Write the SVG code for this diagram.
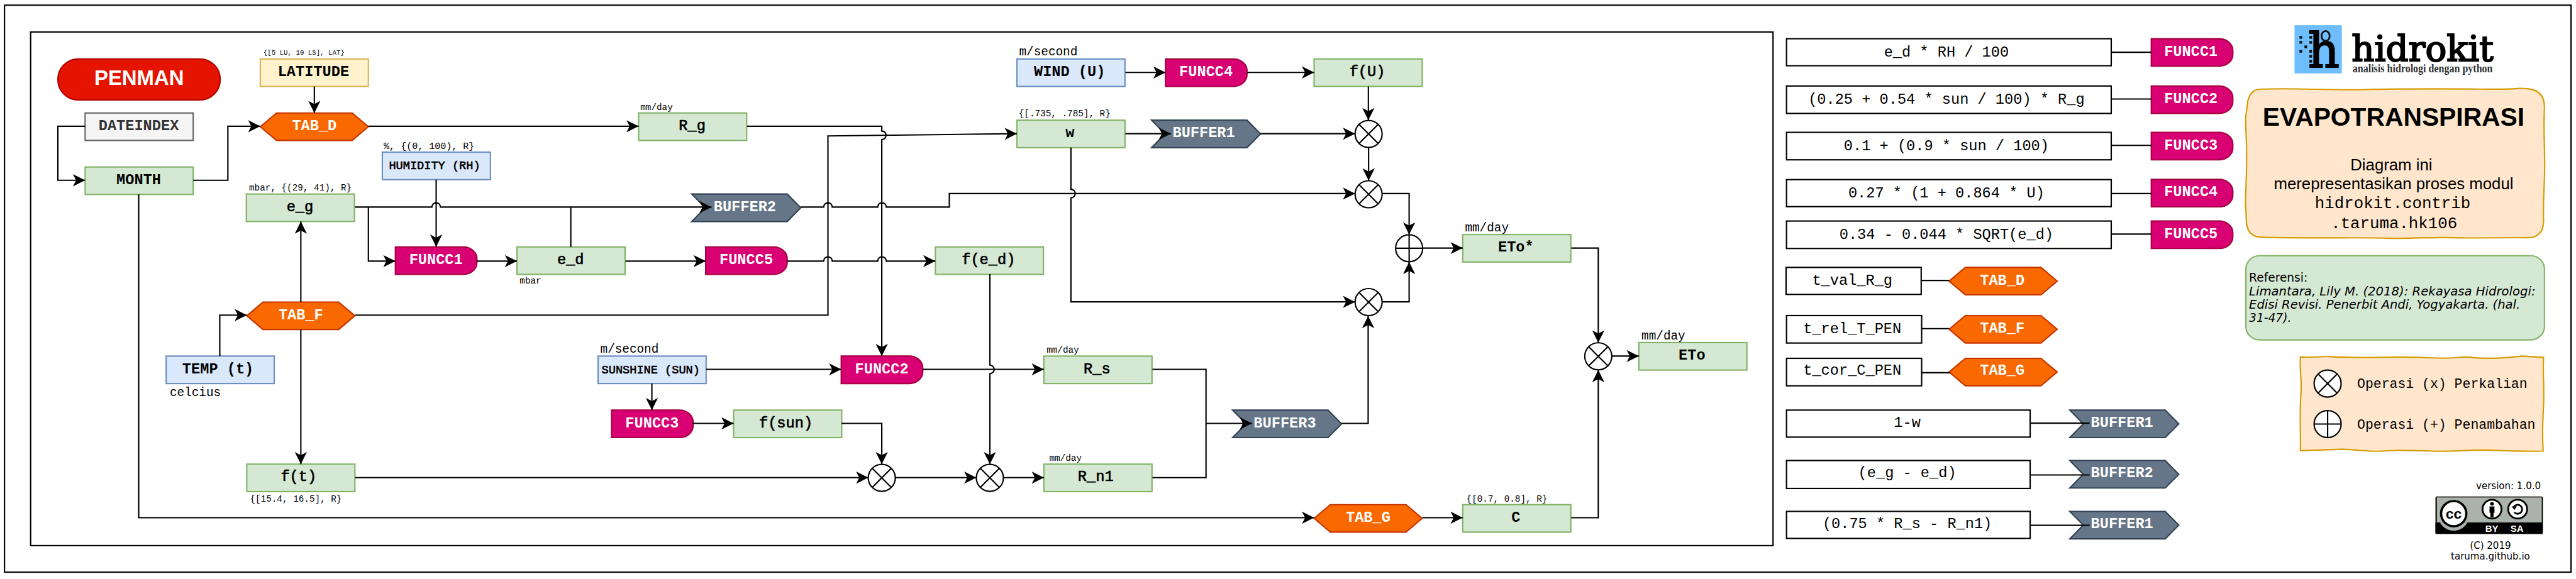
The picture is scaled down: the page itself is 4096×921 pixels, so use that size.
<svg xmlns="http://www.w3.org/2000/svg" width="4096" height="921" viewBox="0 0 4096 921">
<style>
text{font-family:"Liberation Mono",monospace;text-anchor:middle;fill:#000}
.n{font-weight:700;font-size:33px}
.v{font-weight:400;font-size:33px;stroke:#000;stroke-width:1}
.i{font-weight:400;font-size:26px;stroke:#000;stroke-width:.9}
.w{fill:#fff}
.f{font-size:33px}
.l{text-anchor:start}
.s15{font-size:15px}.s20{font-size:20px}.s21{font-size:21px}.s27{font-size:27px}
.sans{font-family:"Liberation Sans",Arial,sans-serif}
.dj{font-family:"DejaVu Sans",sans-serif}
.gn,.bl,.yl,.gy,.or,.pk,.sl,.wb,.fr,.op{stroke-width:3}
.gn{fill:#d5e8d4;stroke:#82b366}
.bl{fill:#dae8fc;stroke:#6c8ebf}
.yl{fill:#fff2cc;stroke:#d6b656}
.gy{fill:#f5f5f5;stroke:#666}
.or{fill:#fa6800;stroke:#c73500}
.pk{fill:#d80073;stroke:#a50040}
.sl{fill:#647687;stroke:#314354}
.wb{fill:#fff;stroke:#000}
.fr{fill:none;stroke:#000}
.op{fill:#fff;stroke:#000}
.cm{fill:#ffe6cc;stroke:#d79b00;stroke-width:3}
#connectors path,#legend-links path{fill:none;stroke:#000;stroke-width:3}
.a{marker-end:url(#arr)}
</style>
<defs>
<marker id="arr" markerUnits="userSpaceOnUse" markerWidth="30" markerHeight="30" viewBox="-28 -15 30 30" refX="0" refY="0" orient="auto"><path d="M-27,-13.5L0,0L-27,13.5L-20,0Z" fill="#000"/></marker>
<polygon id="hex" points="0,30.5 36,0 204,0 240,30.5 204,61 36,61"/>
<path id="chev" d="M0,0H212L242,30.5L212,61H0L30,30.5Z"/>
<path id="func" d="M0,0H151A30,26 0 0 1 181,26V35A30,26 0 0 1 151,61H0Z"/>
<rect id="box" width="240" height="61"/>
<g id="mul"><circle r="30"/><path d="M-21,-21L21,21M21,-21L-21,21" fill="none"/></g>
<g id="add"><circle r="30"/><path d="M-30,0H30M0,-30V30" fill="none"/></g>
</defs>
<rect width="4096" height="921" fill="#fff"/>
<g transform="scale(0.71608)">
<rect id="frame-outer" class="fr" x="10" y="11.5" width="5699" height="1259.5"/>
<rect id="frame-inner" class="fr" x="68" y="71" width="3869" height="1141"/>

<g id="penman"><rect x="128.500" y="131" width="360.500" height="91" rx="45" ry="45" fill="#e51400" stroke="#b20000" stroke-width="3"/><text class="sans w" x="309" y="189" font-size="46" font-weight="700">PENMAN</text></g>
<g id="latitude"><use href="#box" class="yl" x="578" y="131"/><text class="n" x="696" y="169">LATITUDE</text><text class="s15 l" x="585" y="121">{[5 LU, 10 LS], LAT}</text></g>
<g id="dateindex"><use href="#box" class="gy" x="189" y="251"/><text class="n" x="308" y="289" style="fill:#333">DATEINDEX</text></g>
<g id="month"><use href="#box" class="gn" x="189" y="371"/><text class="n" x="308" y="409">MONTH</text></g>
<g id="tab-d"><use href="#hex" class="or" x="578" y="251"/><text class="n w" x="698" y="289">TAB_D</text></g>
<g id="humidity"><use href="#box" class="bl" x="849" y="338"/><text class="i" x="965" y="376">HUMIDITY (RH)</text><text class="s21 l" x="852" y="331">%, {(0, 100), R}</text></g>
<g id="e-g"><use href="#box" class="gn" x="547" y="431"/><text class="v" x="666" y="469">e_g</text><text class="s20 l" x="553" y="423">mbar, {(29, 41), R}</text></g>
<g id="funcc1"><use href="#func" class="pk" x="878" y="548.500"/><text class="n w" x="968" y="587">FUNCC1</text></g>
<g id="e-d"><use href="#box" class="gn" x="1148" y="548.500"/><text class="v" x="1267" y="587">e_d</text><text class="s20 l" x="1154" y="630">mbar</text></g>
<g id="r-g"><use href="#box" class="gn" x="1418" y="251"/><text class="v" x="1537" y="289">R_g</text><text class="s20 l" x="1422" y="245">mm/day</text></g>
<g id="buffer2"><use href="#chev" class="sl" x="1536" y="431"/><text class="n w" x="1654" y="469">BUFFER2</text></g>
<g id="funcc5"><use href="#func" class="pk" x="1567" y="548.500"/><text class="n w" x="1657" y="587">FUNCC5</text></g>
<g id="f-e-d"><use href="#box" class="gn" x="2077" y="548.500"/><text class="v" x="2195" y="587">f(e_d)</text></g>
<g id="wind"><use href="#box" class="bl" x="2258" y="131"/><text class="n" x="2375" y="169">WIND (U)</text><text class="s27 l" x="2263" y="123">m/second</text></g>
<g id="w"><use href="#box" class="gn" x="2258" y="267"/><text class="n" x="2376" y="305">w</text><text class="s20 l" x="2262" y="259">{[.735, .785], R}</text></g>
<g id="funcc4"><use href="#func" class="pk" x="2588" y="131"/><text class="n w" x="2678" y="169">FUNCC4</text></g>
<g id="f-u"><use href="#box" class="gn" x="2918" y="131"/><text class="v" x="3036" y="169">f(U)</text></g>
<g id="buffer1"><use href="#chev" class="sl" x="2557" y="267"/><text class="n w" x="2673" y="305">BUFFER1</text></g>
<g id="op-x1"><use href="#mul" class="op" x="3039" y="297.500"/></g>
<g id="op-x2"><use href="#mul" class="op" x="3039" y="431.500"/></g>
<g id="op-plus"><use href="#add" class="op" x="3129" y="551.500"/></g>
<g id="op-x3"><use href="#mul" class="op" x="3039" y="671"/></g>
<g id="eto-star"><use href="#box" class="gn" x="3248" y="521"/><text class="n" x="3366" y="559">ETo*</text><text class="s27 l" x="3253" y="514">mm/day</text></g>
<g id="op-x4"><use href="#mul" class="op" x="3549" y="791.500"/></g>
<g id="eto"><use href="#box" class="gn" x="3639" y="761"/><text class="n" x="3757" y="799">ETo</text><text class="s27 l" x="3645" y="754">mm/day</text></g>
<g id="tab-f"><use href="#hex" class="or" x="548" y="671"/><text class="n w" x="668" y="709">TAB_F</text></g>
<g id="temp"><use href="#box" class="bl" x="369" y="791"/><text class="n" x="484" y="829">TEMP (t)</text><text class="s27 l" x="377" y="880">celcius</text></g>
<g id="f-t"><use href="#box" class="gn" x="548" y="1031"/><text class="v" x="663" y="1069">f(t)</text><text class="s20 l" x="555" y="1114">{[15.4, 16.5], R}</text></g>
<g id="sunshine"><use href="#box" class="bl" x="1328" y="791"/><text class="i" x="1445" y="829">SUNSHINE (SUN)</text><text class="s27 l" x="1333" y="784">m/second</text></g>
<g id="funcc2"><use href="#func" class="pk" x="1868" y="791"/><text class="n w" x="1958" y="829">FUNCC2</text></g>
<g id="funcc3"><use href="#func" class="pk" x="1358" y="911"/><text class="n w" x="1448" y="949">FUNCC3</text></g>
<g id="f-sun"><use href="#box" class="gn" x="1629" y="911"/><text class="v" x="1745" y="949">f(sun)</text></g>
<g id="op-x5"><use href="#mul" class="op" x="1958" y="1061.500"/></g>
<g id="op-x6"><use href="#mul" class="op" x="2198" y="1061.500"/></g>
<g id="r-s"><use href="#box" class="gn" x="2318" y="791"/><text class="v" x="2436" y="829">R_s</text><text class="s20 l" x="2324" y="784">mm/day</text></g>
<g id="r-n1"><use href="#box" class="gn" x="2318" y="1031"/><text class="v" x="2433" y="1069">R_n1</text><text class="s20 l" x="2330" y="1024">mm/day</text></g>
<g id="buffer3"><use href="#chev" class="sl" x="2737" y="911"/><text class="n w" x="2853" y="949">BUFFER3</text></g>
<g id="tab-g"><use href="#hex" class="or" x="2918" y="1121"/><text class="n w" x="3038" y="1159">TAB_G</text></g>
<g id="c"><use href="#box" class="gn" x="3248" y="1121"/><text class="n" x="3366" y="1159">C</text><text class="s20 l" x="3256" y="1114">{[0.7, 0.8], R}</text></g>

<g id="connectors">
<path class="a" d="M189,280.500H128.500V400.500H189"/>
<path class="a" d="M429,400.500H506V280.500H578"/>
<path class="a" d="M698,192V251"/>
<path class="a" d="M818,280.500H1418"/>
<path class="a" d="M968.500,399V548"/>
<path class="a" d="M788,460H959a9.500,9.500 0 0 1 19,0H1580"/>
<path class="a" d="M818,460V580H878"/>
<path d="M1267.500,460V548.500"/>
<path class="a" d="M1059,580H1148"/>
<path class="a" d="M1389,580H1567"/>
<path class="a" d="M1748,580H1829a9.500,9.500 0 0 1 19,0H1949a9.500,9.500 0 0 1 19,0H2077"/>
<path class="a" d="M1778,460H1829a9.500,9.500 0 0 1 19,0H1949a9.500,9.500 0 0 1 19,0H2108V430H3009"/>
<path class="a" d="M1659,280.500H1958V291a9.500,9.500 0 0 1 0,19V791"/>
<path class="a" d="M789,700H1838.500V302L2258,297"/>
<path class="a" d="M2378,328V420.500a9.500,9.500 0 0 1 0,19V670.500H3009"/>
<path class="a" d="M488,791V700H548"/>
<path class="a" d="M668,671V492"/>
<path class="a" d="M668,732V1031"/>
<path class="a" d="M308,432V1150H2918"/>
<path class="a" d="M3159,1150H3248"/>
<path class="a" d="M3489,1150H3549V822"/>
<path class="a" d="M789,1061H1928"/>
<path class="a" d="M1988,1061H2168"/>
<path class="a" d="M2228,1061H2318"/>
<path class="a" d="M1869,940.500H1958V1031"/>
<path class="a" d="M1538,940.500H1629"/>
<path class="a" d="M1447.500,852V911"/>
<path class="a" d="M1568,820.500H1868"/>
<path class="a" d="M2049,820.500H2318"/>
<path class="a" d="M2198,609V811a9.500,9.500 0 0 1 0,19V1031"/>
<path d="M2559,820.500H2678V1061H2559"/>
<path class="a" d="M2678,940.500H2780"/>
<path class="a" d="M2979,940.500H3038V702"/>
<path class="a" d="M2499,161H2588"/>
<path class="a" d="M2769,161H2918"/>
<path class="a" d="M3038.500,192V267"/>
<path class="a" d="M2499,297H2600"/>
<path class="a" d="M2799,297H3009"/>
<path class="a" d="M3039,328V401"/>
<path class="a" d="M3069,430H3129V521"/>
<path class="a" d="M3069,670.500H3129V582"/>
<path class="a" d="M3159,551H3248"/>
<path class="a" d="M3489,551H3549V761"/>
<path class="a" d="M3579,791H3639"/>
</g>

<g id="def1"><rect class="wb" x="3967" y="86" width="721" height="60"/><text class="f" x="4322" y="126">e_d * RH / 100</text><use href="#func" class="pk" x="4777" y="86"/><text class="n w" x="4865" y="124">FUNCC1</text></g>
<g id="def2"><rect class="wb" x="3967" y="191" width="721" height="61"/><text class="f" x="4322" y="231">(0.25 + 0.54 * sun / 100) * R_g</text><use href="#func" class="pk" x="4777" y="191"/><text class="n w" x="4865" y="229">FUNCC2</text></g>
<g id="def3"><rect class="wb" x="3967" y="294" width="721" height="61"/><text class="f" x="4322" y="334">0.1 + (0.9 * sun / 100)</text><use href="#func" class="pk" x="4777" y="294"/><text class="n w" x="4865" y="332">FUNCC3</text></g>
<g id="def4"><rect class="wb" x="3967" y="399" width="721" height="60"/><text class="f" x="4322" y="438">0.27 * (1 + 0.864 * U)</text><use href="#func" class="pk" x="4777" y="398.500"/><text class="n w" x="4865" y="436">FUNCC4</text></g>
<g id="def5"><rect class="wb" x="3967" y="491" width="721" height="61"/><text class="f" x="4322" y="531">0.34 - 0.044 * SQRT(e_d)</text><use href="#func" class="pk" x="4777" y="491"/><text class="n w" x="4865" y="529">FUNCC5</text></g>
<g id="def6"><rect class="wb" x="3966" y="594" width="300" height="60"/><text class="f" x="4113" y="633">t_val_R_g</text><use href="#hex" class="or" x="4328" y="594"/><text class="n w" x="4446" y="632">TAB_D</text></g>
<g id="def7"><rect class="wb" x="3967" y="701" width="300" height="61"/><text class="f" x="4113" y="740">t_rel_T_PEN</text><use href="#hex" class="or" x="4328" y="701"/><text class="n w" x="4446" y="739">TAB_F</text></g>
<g id="def8"><rect class="wb" x="3967" y="796" width="300" height="61"/><text class="f" x="4113" y="833">t_cor_C_PEN</text><use href="#hex" class="or" x="4328" y="796"/><text class="n w" x="4446" y="832">TAB_G</text></g>
<g id="def9"><rect class="wb" x="3967" y="911" width="541" height="60"/><text class="f" x="4235" y="948">1-w</text><use href="#chev" class="sl" x="4596" y="911"/><text class="n w" x="4712" y="948">BUFFER1</text></g>
<g id="def10"><rect class="wb" x="3967" y="1023" width="541" height="62"/><text class="f" x="4235" y="1060">(e_g - e_d)</text><use href="#chev" class="sl" x="4596" y="1023"/><text class="n w" x="4712" y="1060">BUFFER2</text></g>
<g id="def11"><rect class="wb" x="3967" y="1136" width="541" height="60"/><text class="f" x="4235" y="1173">(0.75 * R_s - R_n1)</text><use href="#chev" class="sl" x="4596" y="1136"/><text class="n w" x="4712" y="1173">BUFFER1</text></g>
<g id="legend-links">
<path d="M4688,116H4777"/><path d="M4688,220H4777"/><path d="M4688,323H4777"/><path d="M4688,430H4777"/><path d="M4688,520H4777"/>
<path d="M4266,623H4328"/><path d="M4267,730H4328"/><path d="M4267,828H4330"/>
<path d="M4508,940H4640"/><path d="M4508,1055H4640"/><path d="M4508,1167H4640"/>
</g>

<g id="logo">
<rect x="5095" y="56" width="105" height="107" fill="#6ebeff"/>
<text x="5160" y="149" font-size="108" stroke="#000" stroke-width="3" style="font-family:'DejaVu Serif',serif">h</text>
<ellipse cx="5164" cy="80" rx="9" ry="11" fill="none" stroke="#111" stroke-width="4"/>
<g fill="#111"><rect x="5106" y="80" width="6" height="6"/><rect x="5106" y="91" width="6" height="6"/><rect x="5106" y="111" width="6" height="6"/><rect x="5117" y="101" width="6" height="6"/><rect x="5128" y="80" width="6" height="6"/><rect x="5128" y="91" width="6" height="6"/><rect x="5128" y="111" width="6" height="6"/><rect x="5128" y="122" width="6" height="6"/><rect x="5128" y="133" width="6" height="6"/></g>
<text class="l" x="5222" y="136" font-size="79" textLength="315" lengthAdjust="spacingAndGlyphs" stroke="#000" stroke-width="3" style="font-family:'DejaVu Serif',serif">hidrokit</text>
<text class="l" x="5224" y="160" font-size="27" font-weight="700" textLength="311" lengthAdjust="spacingAndGlyphs" style="font-family:'Liberation Serif',serif;fill:#333">analisis hidrologi dengan python</text>
</g>
<g id="title">
<path class="cm" d="M5022,198C5100,195 5170,201 5250,199S5400,197 5510,198S5580,194 5612,197Q5650,200 5650,238C5647,290 5652,340 5650,395S5647,450 5648,490Q5648,529 5610,528C5560,527 5500,530 5450,528S5350,531 5300,529S5120,530 5024,527Q4989,528 4988,490C4988,470 4986,465 4986,447C4988,400 4990,360 4988,310S4985,270 4990,235Q4992,198 5022,198Z"/>
<text class="sans" x="5315" y="279" font-size="57" font-weight="700">EVAPOTRANSPIRASI</text>
<text class="sans" x="5310" y="378" font-size="36">Diagram ini</text>
<text class="sans" x="5315" y="420" font-size="36">merepresentasikan proses modul</text>
<text x="5313" y="462" font-size="36">hidrokit.contrib</text>
<text x="5316" y="507" font-size="36">.taruma.hk106</text>
</g>
<g id="referensi">
<rect x="4987" y="568" width="663" height="187" rx="30" ry="30" fill="#d5e8d4" stroke="#82b366" stroke-width="3"/>
<text class="dj l" x="4994" y="626" font-size="26">Referensi:</text>
<text class="dj l" x="4994" y="656" font-size="26" font-style="italic" textLength="636" lengthAdjust="spacingAndGlyphs">Limantara, Lily M. (2018): Rekayasa Hidrologi:</text>
<text class="dj l" x="4994" y="685" font-size="26" font-style="italic" textLength="602" lengthAdjust="spacingAndGlyphs">Edisi Revisi. Penerbit Andi, Yogyakarta. (hal.</text>
<text class="dj l" x="4994" y="715" font-size="26" font-style="italic">31-47).</text>
</g>
<g id="operasi">
<path class="cm" d="M5108,793C5140,795 5160,791 5170,792S5230,794 5260,794S5340,792 5400,795S5460,790 5490,794S5570,795 5600,791L5648,794C5646,830 5650,860 5648,900S5645,960 5647,1002C5610,1003 5580,1002 5530,1000S5470,1004 5400,1002S5320,1000 5290,1002S5240,999 5200,998L5108,1001C5109,960 5106,920 5109,880S5106,830 5108,793Z"/>
<use href="#mul" class="op" x="5168.500" y="852"/>
<text x="5423" y="862" font-size="30">Operasi (x) Perkalian</text>
<use href="#add" class="op" x="5168.500" y="942"/>
<text x="5432" y="952" font-size="30">Operasi (+) Penambahan</text>
</g>
<g id="license">
<text class="dj" x="5570" y="1086" font-size="21">version: 1.0.0</text>
<rect x="5408" y="1103" width="238.500" height="83" rx="3" fill="#000"/>
<path d="M5411,1105H5644V1161H5411Z" fill="#aab2ab"/>
<circle cx="5448.500" cy="1141" r="35" fill="#aab2ab"/>
<path d="M5408,1161H5646V1186H5408Z" fill="#000"/>
<path d="M5418,1161A35,35 0 0 0 5479,1161Z" fill="#aab2ab"/>
<circle cx="5448.500" cy="1141" r="28" fill="#fff" stroke="#000" stroke-width="5"/>
<text class="sans" x="5448.500" y="1152" font-size="32" font-weight="700">cc</text>
<circle cx="5533.500" cy="1131" r="21" fill="#fff" stroke="#000" stroke-width="4"/>
<circle cx="5533.500" cy="1119" r="4" fill="#000"/>
<rect x="5528" y="1125" width="11" height="14" fill="#000"/><rect x="5530" y="1138" width="7" height="11" fill="#000"/>
<circle cx="5590.500" cy="1131" r="21" fill="#fff" stroke="#000" stroke-width="4"/>
<path d="M5582,1126A10,10 0 1 1 5583,1138" fill="none" stroke="#000" stroke-width="4"/><path d="M5577,1125H5589L5583,1133Z" fill="#000"/>
<text class="sans w" x="5533" y="1181" font-size="21" font-weight="700">BY</text>
<text class="sans w" x="5589" y="1181" font-size="21" font-weight="700">SA</text>
<text class="dj" x="5530" y="1219" font-size="21">(C) 2019</text>
<text class="dj" x="5530" y="1243" font-size="21">taruma.github.io</text>
</g>
</g>
</svg>
